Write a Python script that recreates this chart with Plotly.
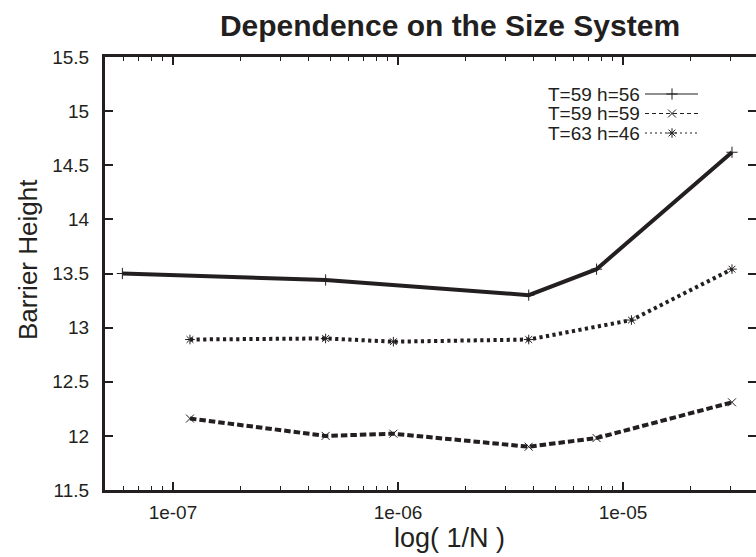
import plotly.graph_objects as go

# ---- data ----
x_t59_h56 = [5.96e-8, 4.77e-7, 3.81e-6, 7.63e-6, 3.05e-5]
y_t59_h56 = [13.50, 13.44, 13.30, 13.54, 14.62]

x_t59_h59 = [1.19e-7, 4.77e-7, 9.54e-7, 3.81e-6, 7.63e-6, 3.05e-5]
y_t59_h59 = [12.16, 12.00, 12.02, 11.90, 11.98, 12.31]

x_t63_h46 = [1.19e-7, 4.77e-7, 9.54e-7, 3.81e-6, 1.09e-5, 3.05e-5]
y_t63_h46 = [12.89, 12.90, 12.87, 12.89, 13.07, 13.54]

series_names = ["T=59 h=56", "T=59 h=59", "T=63 h=46"]
x_tickvals = [1e-7, 1e-6, 1e-5]
x_ticktext = ["1e-07", "1e-06", "1e-05"]

INK = "#231f20"
FONT = "Liberation Sans, Arial, Helvetica, sans-serif"

W, H = 756, 557
L, R, T, B = 105, 756, 57, 490  # plot area in pixels

fig = go.Figure()

styles = [
    dict(dash="solid", symbol="cross-thin", xs=x_t59_h56, ys=y_t59_h56),
    dict(dash="6.5px,3px", symbol="x-thin", xs=x_t59_h59, ys=y_t59_h59),
    dict(dash="3.2px,3.4px", symbol="asterisk", xs=x_t63_h46, ys=y_t63_h46),
]

for name, st in zip(series_names, styles):
    fig.add_trace(go.Scatter(
        x=st["xs"], y=st["ys"], name=name, mode="lines+markers",
        line=dict(color=INK, width=4, dash=st["dash"]),
        marker=dict(symbol=st["symbol"], size=8, color=INK,
                    line=dict(color=INK, width=1)),
        showlegend=False,
    ))

# dummy trace for right-side tick axis
fig.add_trace(go.Scatter(x=[None], y=[None], yaxis="y2", showlegend=False,
                         hoverinfo="skip"))

# ---- gnuplot-style key (text on left, sample on right) in pixel overlay axes ----
key_rows_y = [94, 113.5, 133]
text_right = 642
sample_x0, sample_x1, sample_mid = 645, 698, 672
key_dash = ["solid", "4px,3px", "2px,3px"]
for i, (name, st) in enumerate(zip(series_names, styles)):
    yy = key_rows_y[i]
    fig.add_trace(go.Scatter(
        x=[sample_x0, sample_x1], y=[yy, yy], xaxis="x2", yaxis="y3",
        mode="lines", line=dict(color=INK, width=1.2, dash=key_dash[i]),
        showlegend=False, hoverinfo="skip"))
    fig.add_trace(go.Scatter(
        x=[sample_mid], y=[yy], xaxis="x2", yaxis="y3", mode="markers",
        marker=dict(symbol=st["symbol"], size=8, color=INK,
                    line=dict(color=INK, width=1)),
        showlegend=False, hoverinfo="skip"))
    fig.add_annotation(x=text_right, y=yy, xref="x2", yref="y3", text=name,
                       showarrow=False, xanchor="right", yanchor="middle",
                       font=dict(family=FONT, size=19, color=INK))

# axis titles as annotations
fig.add_annotation(x=(449 - L) / (R - L), y=(B - 538) / (B - T), xref="paper", yref="paper",
                   text="log( 1/N )", showarrow=False, xanchor="center", yanchor="middle",
                   font=dict(family=FONT, size=27, color=INK))
fig.add_annotation(x=(28 - L) / (R - L), y=(B - 260) / (B - T), xref="paper", yref="paper",
                   text="Barrier Height", showarrow=False, textangle=-90,
                   xanchor="center", yanchor="middle",
                   font=dict(family=FONT, size=26, color=INK))

fig.update_layout(
    width=W, height=H,
    margin=dict(l=L, r=W - R, t=T, b=H - B, pad=0),
    paper_bgcolor="white", plot_bgcolor="white",
    title=dict(text="<b>Dependence on the Size System</b>", x=450 / W, xanchor="center",
               y=1 - 25 / H, yanchor="middle", yref="container",
               font=dict(family=FONT, size=30, color=INK)),
    xaxis=dict(
        type="log", range=[-7.302, -4.409],
        tickmode="array", tickvals=x_tickvals, ticktext=x_ticktext,
        ticks="inside", ticklen=8, tickwidth=1.5, tickcolor=INK,
        minor=dict(dtick="D1", ticks="inside", ticklen=4, tickwidth=1, tickcolor=INK),
        showline=True, linewidth=3, linecolor=INK, mirror="ticks",
        showgrid=False, zeroline=False,
        tickfont=dict(family=FONT, size=19, color=INK), ticklabelstandoff=3,
    ),
    yaxis=dict(
        range=[11.5, 15.5], tickmode="linear", tick0=11.5, dtick=0.5,
        ticks="inside", ticklen=8, tickwidth=1.5, tickcolor=INK,
        showline=True, linewidth=3, linecolor=INK, mirror=False,
        showgrid=False, zeroline=False,
        tickfont=dict(family=FONT, size=19, color=INK), ticklabelstandoff=9,
    ),
    yaxis2=dict(
        overlaying="y", side="right", range=[11.5, 15.5], tickmode="linear",
        tick0=11.5, dtick=0.5, ticks="inside", ticklen=8, tickwidth=1.5,
        tickcolor=INK, showticklabels=False, showline=False, showgrid=False,
        zeroline=False,
    ),
    xaxis2=dict(overlaying="x", range=[L, R], visible=False, anchor="y3"),
    yaxis3=dict(overlaying="y", range=[B, T], visible=False, anchor="x2"),
)

fig.write_html("out.html")
